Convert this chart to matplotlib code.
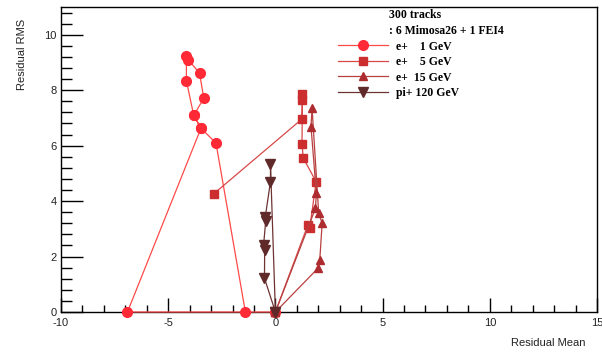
import matplotlib
matplotlib.use("Agg")
import matplotlib.pyplot as plt
from matplotlib.ticker import MultipleLocator

# Residual mean / RMS per configuration, one polyline per beam setting
e1_mean = [0.0, -6.9, -3.47, -3.81, -4.15, -4.15, -4.07, -3.54, -3.34, -3.81, -3.47, -2.77, -1.4]
e1_rms = [0.0, 0.0, 6.63, 7.09, 8.34, 9.24, 9.10, 8.62, 7.71, 7.09, 6.63, 6.09, 0.0]

e5_mean = [-2.88, 1.24, 1.26, 1.26, 1.24, 1.30, 1.90, 1.60, 1.52, 0.0]
e5_rms = [4.26, 6.96, 7.88, 7.66, 6.06, 5.55, 4.70, 3.02, 3.15, 0.0]

e15_mean = [0.0, 1.99, 2.07, 2.18, 2.02, 1.71, 1.66, 1.91, 1.87, 0.0]
e15_rms = [0.0, 1.58, 1.88, 3.20, 3.56, 7.35, 6.69, 4.28, 3.74, 0.0]

pi_mean = [0.0, -0.51, -0.50, -0.55, -0.45, -0.47, -0.23, -0.23, 0.0]
pi_rms = [0.0, 1.22, 2.24, 2.42, 3.30, 3.44, 4.70, 5.33, 0.0]

labels = ["e+    1 GeV", "e+    5 GeV", "e+  15 GeV", "pi+ 120 GeV"]
header = ["300 tracks", ": 6 Mimosa26 + 1 FEI4"]

series = [
    (e1_mean, e1_rms, "o", "#ff2a36", "#ff4a4a", 7.0),
    (e5_mean, e5_rms, "s", "#cc2e30", "#d84848", 6.3),
    (e15_mean, e15_rms, "^", "#ad2c30", "#b84040", 6.2),
    (pi_mean, pi_rms, "v", "#612a2a", "#6e3434", 6.6),
]

W, H = 602, 352
fig = plt.figure(figsize=(W / 100, H / 100), dpi=100)
ax = fig.add_axes([61 / W, 1 - 312 / H, (597 - 61) / W, (312 - 7) / H])

handles = []
for (xs, ys, m, fc, lc, ms), lab in zip(series, labels):
    h, = ax.plot(xs, ys, color=lc, lw=0.9, marker=m, markersize=ms,
                 markerfacecolor=fc, markeredgecolor=fc, label=lab,
                 clip_on=False, zorder=3)
    handles.append(h)

ax.set_xlim(-10, 15)
ax.set_ylim(0, 11)
ax.xaxis.set_major_locator(MultipleLocator(5))
ax.xaxis.set_minor_locator(MultipleLocator(1))
ax.yaxis.set_major_locator(MultipleLocator(2))
ax.yaxis.set_minor_locator(MultipleLocator(0.4))

ax.tick_params(which="both", direction="in", top=False, right=False,
               labelsize=8, width=1.0, colors="black", pad=3)
ax.tick_params(axis="y", which="major", length=16)
ax.tick_params(axis="y", which="minor", length=8)
ax.tick_params(axis="x", which="major", length=10)
ax.tick_params(axis="x", which="minor", length=5)
ax.tick_params(axis="x", pad=4)

for sp in ax.spines.values():
    sp.set_linewidth(1.0)

ax.set_yticks([0, 2, 4, 6, 8, 10])
ax.set_yticklabels(["0", "2", "4", "6", "8", "10"], family="Liberation Sans")
ax.set_xticks([-10, -5, 0, 5, 10, 15])
ax.set_xticklabels(["-10", "-5", "0", "5", "10", "15"], family="Liberation Sans")
for t in ax.get_yticklabels():
    t.set_color("#222222")
for t in ax.get_xticklabels():
    t.set_color("#222222")

fig.text(548 / W, 1 - 343 / H, "Residual Mean", ha="center", va="center",
         fontsize=8, family="Liberation Sans", color="#222222")
fig.text(22 / W, 1 - 54 / H, "Residual RMS", ha="center", va="center",
         rotation=90, fontsize=8, family="Liberation Sans", color="#222222")

serif = dict(family="Liberation Serif", weight="bold", fontsize=8.5, color="black")
fig.text(389 / W, 1 - 15 / H, header[0], ha="left", va="center", **serif)
fig.text(389 / W, 1 - 31 / H, header[1], ha="left", va="center", **serif)

leg = ax.legend(handles=handles, loc="upper left",
                bbox_to_anchor=(338 / W, 1 - 40.5 / H),
                bbox_transform=fig.transFigure, frameon=False,
                borderpad=0, borderaxespad=0, handlelength=4.2,
                handletextpad=0.75, labelspacing=0.3, numpoints=1,
                prop=dict(family="Liberation Serif", weight="bold", size=8.5))

fig.savefig("out.png", dpi=100)
